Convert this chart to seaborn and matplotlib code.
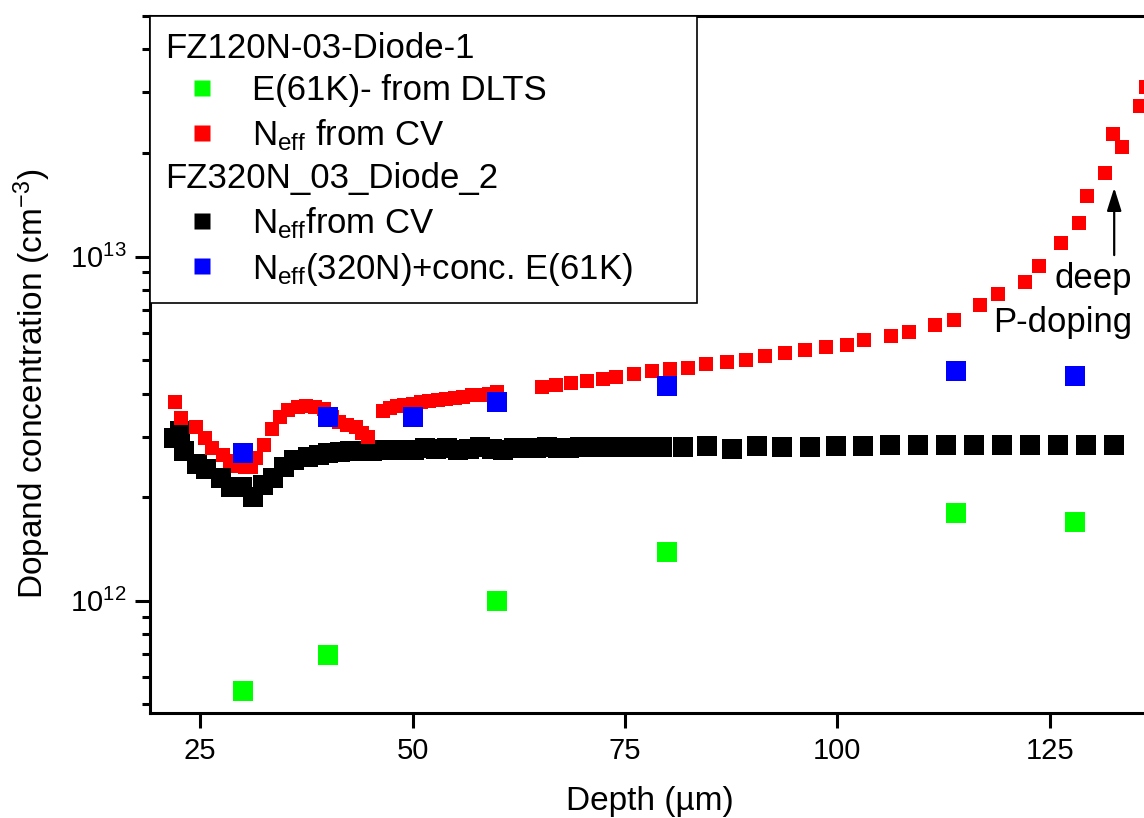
import matplotlib
matplotlib.use("Agg")
import matplotlib.pyplot as plt
import seaborn as sns
from matplotlib.lines import Line2D
from matplotlib.ticker import LogLocator, FixedLocator, NullFormatter

sns.set_theme(style="ticks")
plt.rcParams["font.family"] = ["Liberation Sans", "DejaVu Sans"]
plt.rcParams["mathtext.fontset"] = "custom"
plt.rcParams["mathtext.rm"] = "Liberation Sans"
plt.rcParams["mathtext.it"] = "Liberation Sans:italic"
plt.rcParams["mathtext.bf"] = "Liberation Sans:bold"
plt.rcParams["text.color"] = "black"
plt.rcParams["axes.labelcolor"] = "black"
plt.rcParams["xtick.color"] = "black"
plt.rcParams["ytick.color"] = "black"

# FZ120N-03-Diode-1 : E(61K) concentration from DLTS
dlts_depth = [30, 40, 60, 80, 114, 128]
dlts_conc = [5.48e11, 6.95e11, 1.0e12, 1.39e12, 1.80e12, 1.69e12]

# FZ120N-03-Diode-1 : Neff from CV
cv120_depth = [22.0, 22.8, 24.5, 25.6, 26.4, 27.7, 28.5, 29.5, 30.3, 31.0, 31.6, 32.5,
               33.5, 34.4, 35.4, 36.5, 37.5, 38.5, 39.6, 40.5, 41.3, 42.3, 43.3, 44.1,
               44.8,
               46.5, 47.3, 48.2, 49.0, 50.0, 51.0, 52.0, 53.0, 54.0, 55.0, 56.0, 57.0,
               58.0, 59.0, 60.0,
               65.3, 66.9, 68.7, 70.5, 72.4, 74.0, 76.1, 78.2, 80.3, 82.4, 84.5, 87.0,
               89.2, 91.5, 93.8, 96.2, 98.7, 101.1, 103.2, 106.3, 108.4, 111.5, 113.7,
               116.8, 118.9, 122.1, 123.8, 126.3, 128.4, 129.4, 131.5, 132.5, 133.5,
               135.6, 136.4, 137.2]
cv120_neff = [3.77e12, 3.40e12, 3.20e12, 2.98e12, 2.78e12, 2.66e12, 2.55e12, 2.47e12,
              2.44e12, 2.45e12, 2.60e12, 2.84e12, 3.16e12, 3.43e12, 3.59e12, 3.65e12,
              3.67e12, 3.65e12, 3.60e12, 3.42e12, 3.30e12, 3.25e12, 3.20e12, 3.08e12,
              3.00e12,
              3.55e12, 3.63e12, 3.68e12, 3.71e12, 3.74e12, 3.77e12, 3.80e12, 3.83e12,
              3.86e12, 3.89e12, 3.92e12, 3.95e12, 3.97e12, 4.00e12, 4.03e12,
              4.18e12, 4.24e12, 4.30e12, 4.36e12, 4.42e12, 4.47e12, 4.55e12, 4.66e12,
              4.71e12, 4.76e12, 4.86e12, 4.95e12, 5.02e12, 5.14e12, 5.23e12, 5.35e12,
              5.47e12, 5.55e12, 5.74e12, 5.89e12, 6.05e12, 6.33e12, 6.56e12, 7.21e12,
              7.76e12, 8.46e12, 9.42e12, 1.098e13, 1.255e13, 1.504e13, 1.754e13,
              2.266e13, 2.088e13, 2.73e13, 3.10e13, 3.64e13]

# FZ320N_03_Diode_2 : Neff from CV
cv320_depth = [21.9, 22.6, 23.1, 24.6, 25.7, 27.5, 28.6, 29.9, 31.2, 32.4, 33.6, 34.9,
               36.1, 37.7, 39.0, 40.0, 41.5, 42.7, 43.9, 45.2, 46.4, 47.6, 48.9, 50.2,
               51.5, 52.8, 54.1, 55.4, 56.7, 58.0, 59.3, 60.6, 61.9, 63.2, 64.5, 65.8,
               67.1, 68.4, 69.7, 71.0, 72.3, 73.6, 74.9, 76.2, 77.6, 79.4, 81.9, 84.7,
               87.6, 90.5, 93.5, 96.8, 99.9, 103.0, 106.2, 109.5, 112.8, 116.1, 119.4,
               122.7, 126.0, 129.3, 132.6]
cv320_neff = [2.98e12, 3.12e12, 2.72e12, 2.50e12, 2.42e12, 2.28e12, 2.14e12, 2.14e12,
              2.00e12, 2.17e12, 2.28e12, 2.45e12, 2.57e12, 2.61e12, 2.65e12, 2.68e12,
              2.71e12, 2.72e12, 2.73e12, 2.73e12, 2.74e12, 2.75e12, 2.74e12, 2.75e12,
              2.77e12, 2.76e12, 2.78e12, 2.75e12, 2.76e12, 2.79e12, 2.76e12, 2.74e12,
              2.77e12, 2.78e12, 2.77e12, 2.79e12, 2.78e12, 2.78e12, 2.79e12, 2.79e12,
              2.79e12, 2.80e12, 2.80e12, 2.80e12, 2.80e12, 2.79e12, 2.80e12, 2.81e12,
              2.76e12, 2.81e12, 2.80e12, 2.80e12, 2.81e12, 2.81e12, 2.83e12, 2.83e12,
              2.83e12, 2.83e12, 2.83e12, 2.83e12, 2.83e12, 2.83e12, 2.83e12]

# FZ320N_03_Diode_2 : Neff + E(61K) concentration
sum_depth = [30, 40, 50, 60, 80, 114, 128]
sum_conc = [2.69e12, 3.43e12, 3.43e12, 3.79e12, 4.22e12, 4.64e12, 4.51e12]

x_ticks = [25, 50, 75, 100, 125]

GREEN, RED, BLACK, BLUE = "#00ff00", "#ff0000", "#000000", "#0000ff"

fig = plt.figure(figsize=(11.44, 8.18), dpi=100)
ax = fig.add_axes([150 / 1144, 105 / 818, 1050 / 1144, 697 / 818])

sns.scatterplot(x=cv320_depth, y=cv320_neff, marker="s", s=200, color=BLACK,
                linewidth=0, ax=ax, zorder=2)
sns.scatterplot(x=cv120_depth, y=cv120_neff, marker="s", s=105, color=RED,
                linewidth=0, ax=ax, zorder=3)
sns.scatterplot(x=dlts_depth, y=dlts_conc, marker="s", s=200, color=GREEN,
                linewidth=0, ax=ax, zorder=4)
sns.scatterplot(x=sum_depth, y=sum_conc, marker="s", s=200, color=BLUE,
                linewidth=0, ax=ax, zorder=5)

ax.set_yscale("log")
ax.set_xlim(19.1, 142.7)
ax.set_ylim(4.72e11, 5.0e13)
ax.xaxis.set_major_locator(FixedLocator(x_ticks))
ax.yaxis.set_major_locator(LogLocator(base=10))
ax.yaxis.set_minor_locator(LogLocator(base=10, subs=range(2, 10)))
ax.yaxis.set_minor_formatter(NullFormatter())

for side in ["left", "bottom", "top", "right"]:
    ax.spines[side].set_linewidth(2.2)
    ax.spines[side].set_color("black")
ax.tick_params(axis="both", which="major", direction="out", length=11, width=2.2,
               labelsize=21, colors="black", pad=6)
ax.tick_params(axis="y", which="minor", direction="out", length=6, width=2.2,
               colors="black")
ax.tick_params(top=False, right=False, which="both")

ax.set_xlabel("Depth (\u00b5m)", fontsize=24)
ax.set_ylabel(r"Dopand concentration (cm$^{\mathdefault{-3}}$)", fontsize=24)
ax.xaxis.set_label_coords(0.476, -0.105)
ax.yaxis.set_label_coords(-0.092, 0.472)

# arrow and note for the deep P-doping region
ax.annotate("", xy=(132.6, 1.585e13), xytext=(132.6, 1.01e13),
            arrowprops=dict(arrowstyle="-|>,head_length=0.7,head_width=0.22",
                            color="black", lw=1.6, mutation_scale=20,
                            shrinkA=0, shrinkB=0), zorder=6)
ax.text(134.7, 8.13e12, "deep", ha="right", va="baseline", fontsize=25, zorder=6)
ax.text(134.7, 6.05e12, "P-doping", ha="right", va="baseline", fontsize=25, zorder=6)

# legend with two sample headers
ms = 11.5
handles = [
    Line2D([], [], linestyle="none", label="FZ120N-03-Diode-1"),
    Line2D([], [], linestyle="none", marker="s", ms=ms, color=GREEN, mec="none",
           label="E(61K)- from DLTS"),
    Line2D([], [], linestyle="none", marker="s", ms=ms, color=RED, mec="none",
           label=r"N$_{\mathrm{eff}}$ from CV"),
    Line2D([], [], linestyle="none", label="FZ320N_03_Diode_2"),
    Line2D([], [], linestyle="none", marker="s", ms=ms, color=BLACK, mec="none",
           label=r"N$_{\mathrm{eff}}$from CV"),
    Line2D([], [], linestyle="none", marker="s", ms=ms, color=BLUE, mec="none",
           label=r"N$_{\mathrm{eff}}$(320N)+conc. E(61K)"),
]
leg = ax.legend(handles=handles, loc="upper left",
                bbox_to_anchor=(0, 0, 547 / 1050, 1), mode="expand",
                borderaxespad=0, frameon=True, fancybox=False, edgecolor="black",
                framealpha=1, fontsize=25, handlelength=2.1, handletextpad=0.4,
                borderpad=0.45, labelspacing=0.28, numpoints=1)
leg.get_frame().set_linewidth(1.2)
leg.set_zorder(10)
for col in leg._legend_handle_box.get_children():
    for row in col.get_children():
        box, txt = row.get_children()
        if txt.get_text().startswith("FZ"):
            box.width = 0
            row.sep = 0

fig.savefig("out.png", dpi=100)
